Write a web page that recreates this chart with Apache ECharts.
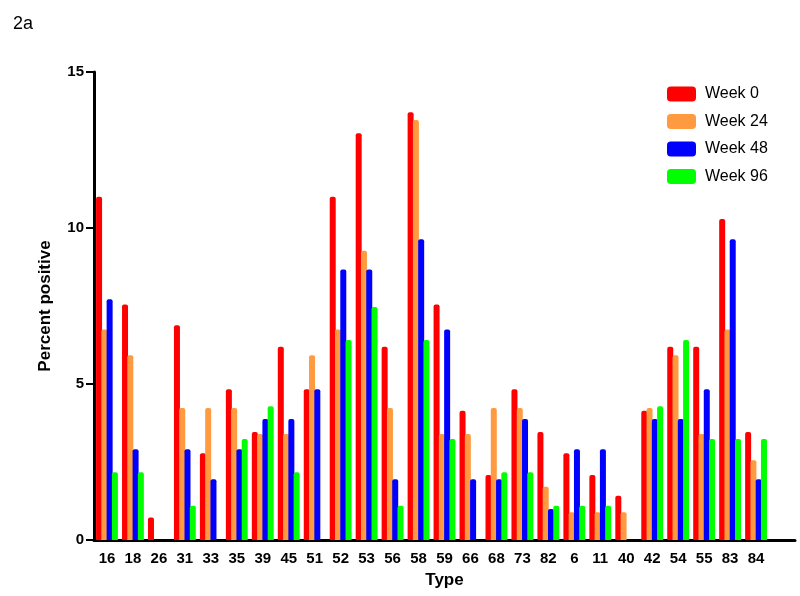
<!DOCTYPE html>
<html>
<head>
<meta charset="utf-8">
<script src="https://cdn.jsdelivr.net/npm/echarts@6/dist/echarts.min.js"></script>
<style>html,body{margin:0;padding:0;background:#fff}#c{width:800px;height:596px}</style>
</head>
<body>
<div id="c"></div>
<script>
const categories = ['16','18','26','31','33','35','39','45','51','52','53','56','58','59','66','68','73','82','6','11','40','42','54','55','83','84'];
const seriesNames = ['Week 0','Week 24','Week 48','Week 96'];
const week0  = [11.0, 7.55, 0.72, 6.88, 2.78, 4.83, 3.46, 6.19, 4.83, 11.0, 13.04, 6.19, 13.71, 7.55, 4.14, 2.08, 4.83, 3.46, 2.78, 2.08, 1.42, 4.14, 6.19, 6.19, 10.29, 3.46];
const week24 = [6.75, 5.92, 0, 4.23, 4.23, 4.23, 3.40, 3.40, 5.92, 6.75, 9.27, 4.23, 13.46, 3.40, 3.40, 4.23, 4.23, 1.71, 0.89, 0.89, 0.89, 4.23, 5.92, 3.40, 6.75, 2.56];
const week48 = [7.72, 2.91, 0, 2.91, 1.95, 2.91, 3.88, 3.88, 4.83, 8.67, 8.67, 1.95, 9.64, 6.75, 1.95, 1.95, 3.88, 0.99, 2.91, 2.91, 0, 3.88, 3.88, 4.83, 9.64, 1.95];
const week96 = [2.17, 2.17, 0, 1.10, 0, 3.24, 4.29, 2.17, 0, 6.41, 7.47, 1.10, 6.41, 3.24, 0, 2.17, 2.17, 1.10, 1.10, 1.10, 0, 4.29, 6.41, 3.24, 3.24, 3.24];
const yTicks = [0, 5, 10, 15];

const colors = ['#FF0000', '#FF9A40', '#0000FF', '#00FF00'];
const allData = [week0, week24, week48, week96];
const font = '"Liberation Sans", Arial, sans-serif';

const chart = echarts.init(document.getElementById('c'), null, {renderer: 'canvas'});
chart.setOption({
  animation: false,
  backgroundColor: '#fff',
  title: {
    text: '2a', left: 8, top: 10,
    textStyle: {fontFamily: font, fontSize: 18, fontWeight: 'normal', color: '#000'}
  },
  legend: {
    orient: 'vertical', left: 662, top: 81,
    itemWidth: 29, itemHeight: 15, itemGap: 11.5,
    icon: 'roundRect',
    data: seriesNames,
    textStyle: {fontFamily: font, fontSize: 16, color: '#000', padding: [0,0,0,4]}
  },
  grid: {left: 94, right: 5, top: 72, bottom: 56, containLabel: false},
  xAxis: {
    type: 'category',
    data: categories.concat(['']),
    name: 'Type', nameLocation: 'middle', nameGap: 32,
    nameTextStyle: {fontFamily: font, fontSize: 17, fontWeight: 'bold', color: '#000'},
    axisLine: {lineStyle: {color: '#000', width: 3}},
    axisTick: {show: false},
    axisLabel: {fontFamily: font, fontSize: 15, fontWeight: 'bold', color: '#000', margin: 11, interval: 0}
  },
  yAxis: {
    type: 'value', min: yTicks[0], max: yTicks[yTicks.length-1], interval: 5,
    name: 'Percent positive', nameLocation: 'middle', nameGap: 40,
    nameTextStyle: {fontFamily: font, fontSize: 17, fontWeight: 'bold', color: '#000'},
    axisLine: {show: true, lineStyle: {color: '#000', width: 3}},
    axisTick: {show: true, length: 8, lineStyle: {color: '#000', width: 2}},
    axisLabel: {fontFamily: font, fontSize: 15, fontWeight: 'bold', color: '#000', margin: 10},
    splitLine: {show: false}
  },
  series: seriesNames.map((n, i) => ({
    name: n, type: 'bar', data: allData[i],
    barWidth: 6, barGap: '-12%',
    itemStyle: {color: colors[i], borderRadius: [2, 2, 0, 0]}
  }))
});
</script>
</body>
</html>
